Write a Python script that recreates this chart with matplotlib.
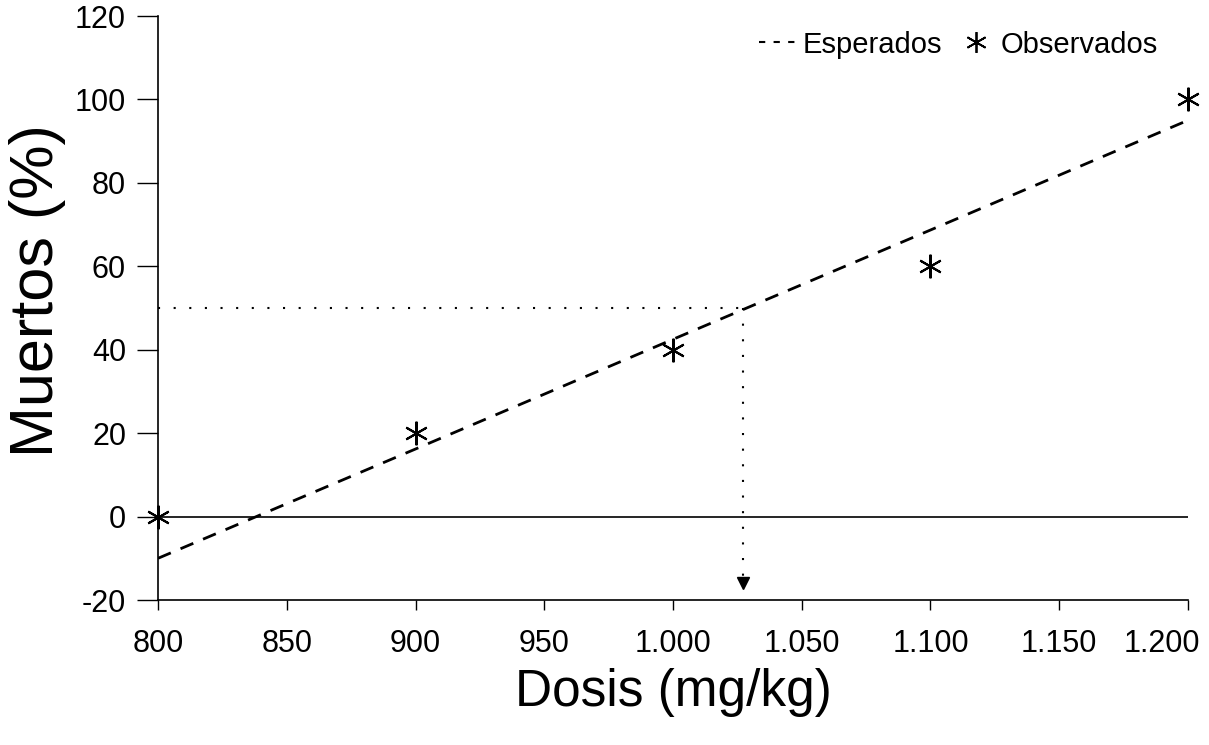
import matplotlib
matplotlib.use("Agg")
import matplotlib.pyplot as plt
import matplotlib.transforms as mtransforms
from matplotlib.ticker import FuncFormatter
from matplotlib.lines import Line2D

plt.rcParams['font.family'] = ['Liberation Sans', 'DejaVu Sans']
plt.rcParams['axes.unicode_minus'] = False

# Dosis ensayadas y mortalidad
dosis = [800, 900, 1000, 1100, 1200]
observados = [0, 20, 40, 60, 100]
esperados = [-10, 16.2, 42.5, 68.7, 95]
dl50 = 1027
nivel50 = 50

fig = plt.figure(figsize=(12.09, 7.45), dpi=100)
ax = fig.add_axes([0.1307, 0.1946, 0.8519, 0.7839])

star = (6, 2, 0)

# linea esperada y puntos observados
ax.plot(dosis, esperados, color='black', lw=2.0, linestyle=(0, (5, 3.8)))
ax.plot(dosis, observados, linestyle='none', marker=star, markersize=17,
        markeredgewidth=1.5, color='black', clip_on=False, zorder=5)

# linea de cero
ax.axhline(0, color='black', lw=1.2)

# lectura de la DL50
ax.plot([dosis[0], dl50], [nivel50, nivel50], color='black', lw=1.5,
        linestyle=(0, (1, 6.5)))
ax.plot([dl50, dl50], [nivel50, -16], color='black', lw=1.5,
        linestyle=(0, (1, 6.5)))
ax.plot([dl50], [-15.8], marker='v', markersize=9, color='black')

ax.set_xlim(800, 1200)
ax.set_ylim(-20, 120)
ax.set_xticks(range(800, 1201, 50))
ax.set_yticks(range(-20, 121, 20))

ax.xaxis.set_major_formatter(FuncFormatter(lambda v, p: f"{int(v):,}".replace(',', '.')))

for s in ['top', 'right']:
    ax.spines[s].set_visible(False)
ax.spines['left'].set_linewidth(1.2)
ax.spines['bottom'].set_linewidth(1.2)

ax.tick_params(axis='y', direction='out', length=15, width=1.0, labelsize=22, pad=8)
ax.tick_params(axis='x', direction='out', length=7, width=1.0, labelsize=22, pad=14)

# la ultima etiqueta del eje x queda dentro de la figura
ultima = ax.get_xticklabels()[-1]
ultima.set_ha('right')
ultima.set_transform(ultima.get_transform() +
                     mtransforms.ScaledTranslation(12 / 100, 0, fig.dpi_scale_trans))

ax.set_ylabel('Muertos (%)', fontsize=44)
ax.yaxis.set_label_coords(-0.089, 0.53)
ax.set_xlabel('Dosis (mg/kg)', fontsize=37, labelpad=6)

handles = [
    Line2D([], [], color='black', lw=1.5, linestyle=(0, (3, 4))),
    Line2D([], [], linestyle='none', marker=star, markersize=15,
           markeredgewidth=1.3, color='black'),
]
ax.legend(handles, ['Esperados', 'Observados'], loc='upper right', ncol=2,
          frameon=False, fontsize=21, handlelength=1.3, handletextpad=0.2,
          columnspacing=0.5, bbox_to_anchor=(0.985, 1.0), borderaxespad=0.1)

fig.savefig('out.png', dpi=100)
